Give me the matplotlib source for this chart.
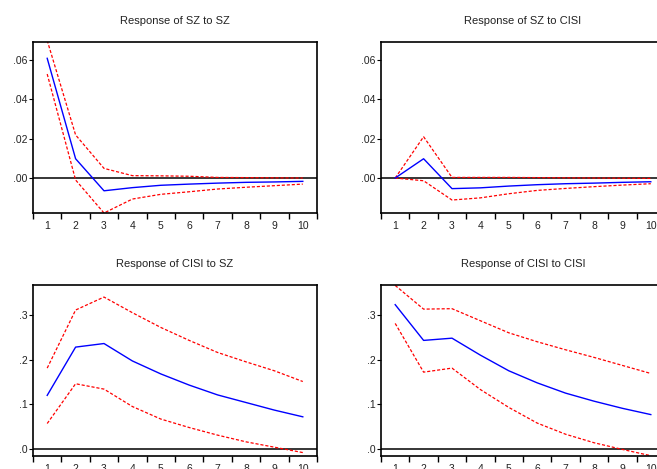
import numpy as np
import matplotlib
matplotlib.use("Agg")
import matplotlib.pyplot as plt
from matplotlib.ticker import FixedLocator, FuncFormatter

plt.rcParams['font.family'] = ['Liberation Sans', 'DejaVu Sans']

periods = np.arange(1, 11)

# Response of SZ to SZ
sz_sz = [0.0609, 0.0098, -0.0065, -0.0049, -0.0037, -0.0031, -0.0026, -0.0022, -0.0020, -0.0017]
sz_sz_hi = [0.0700, 0.0219, 0.0049, 0.0012, 0.0011, 0.0009, 0.0003, 0.0002, 0.0001, 0.0000]
sz_sz_lo = [0.0529, -0.0010, -0.0178, -0.0107, -0.0083, -0.0070, -0.0056, -0.0047, -0.0039, -0.0031]

# Response of SZ to CISI
sz_cisi = [0.0, 0.0098, -0.0054, -0.0050, -0.0041, -0.0034, -0.0029, -0.0026, -0.0022, -0.0019]
sz_cisi_hi = [0.0, 0.0210, 0.0003, 0.0003, 0.0003, 0.0002, 0.0001, 0.0000, -0.0001, -0.0002]
sz_cisi_lo = [0.0, -0.0014, -0.0112, -0.0101, -0.0080, -0.0063, -0.0053, -0.0044, -0.0036, -0.0029]

# Response of CISI to SZ
cisi_sz = [0.120, 0.228, 0.236, 0.197, 0.168, 0.143, 0.121, 0.104, 0.087, 0.072]
cisi_sz_hi = [0.181, 0.311, 0.340, 0.305, 0.272, 0.243, 0.216, 0.195, 0.175, 0.151]
cisi_sz_lo = [0.057, 0.146, 0.134, 0.095, 0.067, 0.048, 0.031, 0.016, 0.004, -0.008]

# Response of CISI to CISI
cisi_cisi = [0.323, 0.243, 0.248, 0.210, 0.175, 0.148, 0.125, 0.107, 0.091, 0.077]
cisi_cisi_hi = [0.366, 0.313, 0.314, 0.287, 0.260, 0.240, 0.222, 0.205, 0.187, 0.169]
cisi_cisi_lo = [0.281, 0.172, 0.181, 0.133, 0.093, 0.058, 0.033, 0.014, -0.001, -0.015]

W, H = 657, 469
fig = plt.figure(figsize=(W / 100, H / 100), dpi=100)


def px_axes(left, top, right, bottom):
    return fig.add_axes([left / W, 1 - bottom / H, (right - left) / W, (bottom - top) / H])


panels = [
    ("Response of SZ to SZ", (33, 42, 317, 213), sz_sz, sz_sz_hi, sz_sz_lo,
     (-0.0178, 0.0692), [0, 0.02, 0.04, 0.06], "{:.2f}"),
    ("Response of SZ to CISI", (381, 42, 665, 213), sz_cisi, sz_cisi_hi, sz_cisi_lo,
     (-0.0178, 0.0692), [0, 0.02, 0.04, 0.06], "{:.2f}"),
    ("Response of CISI to SZ", (33, 285, 317, 456), cisi_sz, cisi_sz_hi, cisi_sz_lo,
     (-0.0157, 0.367), [0, 0.1, 0.2, 0.3], "{:.1f}"),
    ("Response of CISI to CISI", (381, 285, 665, 456), cisi_cisi, cisi_cisi_hi, cisi_cisi_lo,
     (-0.0157, 0.367), [0, 0.1, 0.2, 0.3], "{:.1f}"),
]

for title, box, mid, hi, lo, ylim, yt, fmt in panels:
    ax = px_axes(*box)
    ax.axhline(0, color='k', linewidth=1.1, zorder=1)
    ax.plot(periods, hi, color='red', linestyle=(0, (2.5, 1.5)), linewidth=0.9)
    ax.plot(periods, lo, color='red', linestyle=(0, (2.5, 1.5)), linewidth=0.9)
    ax.plot(periods, mid, color='blue', linewidth=1.0)
    ax.set_xlim(0.5, 10.5)
    ax.set_ylim(*ylim)
    ax.set_title(title, fontsize=8, pad=13, color='#222222')

    # EViews style: ticks between periods, labels at periods
    ax.xaxis.set_major_locator(FixedLocator(np.arange(0.5, 11, 1)))
    ax.xaxis.set_minor_locator(FixedLocator(periods))
    ax.xaxis.set_major_formatter(FuncFormatter(lambda v, p: ""))
    ax.xaxis.set_minor_formatter(FuncFormatter(lambda v, p: "%d" % round(v)))
    ax.tick_params(axis='x', which='major', direction='out', length=4, width=1, color='k')
    ax.tick_params(axis='x', which='minor', length=0, labelsize=7.5, pad=6, labelcolor='#222222')

    ax.set_yticks(yt)
    ax.yaxis.set_major_formatter(FuncFormatter(lambda v, p, f=fmt: f.format(v).replace("0.", ".", 1)))
    ax.tick_params(axis='y', direction='out', length=3, width=0.8, labelsize=7.5, pad=1, labelcolor='#222222')

    for spine in ax.spines.values():
        spine.set_linewidth(1.2)
        spine.set_color('k')

fig.savefig("out.png", dpi=100)
